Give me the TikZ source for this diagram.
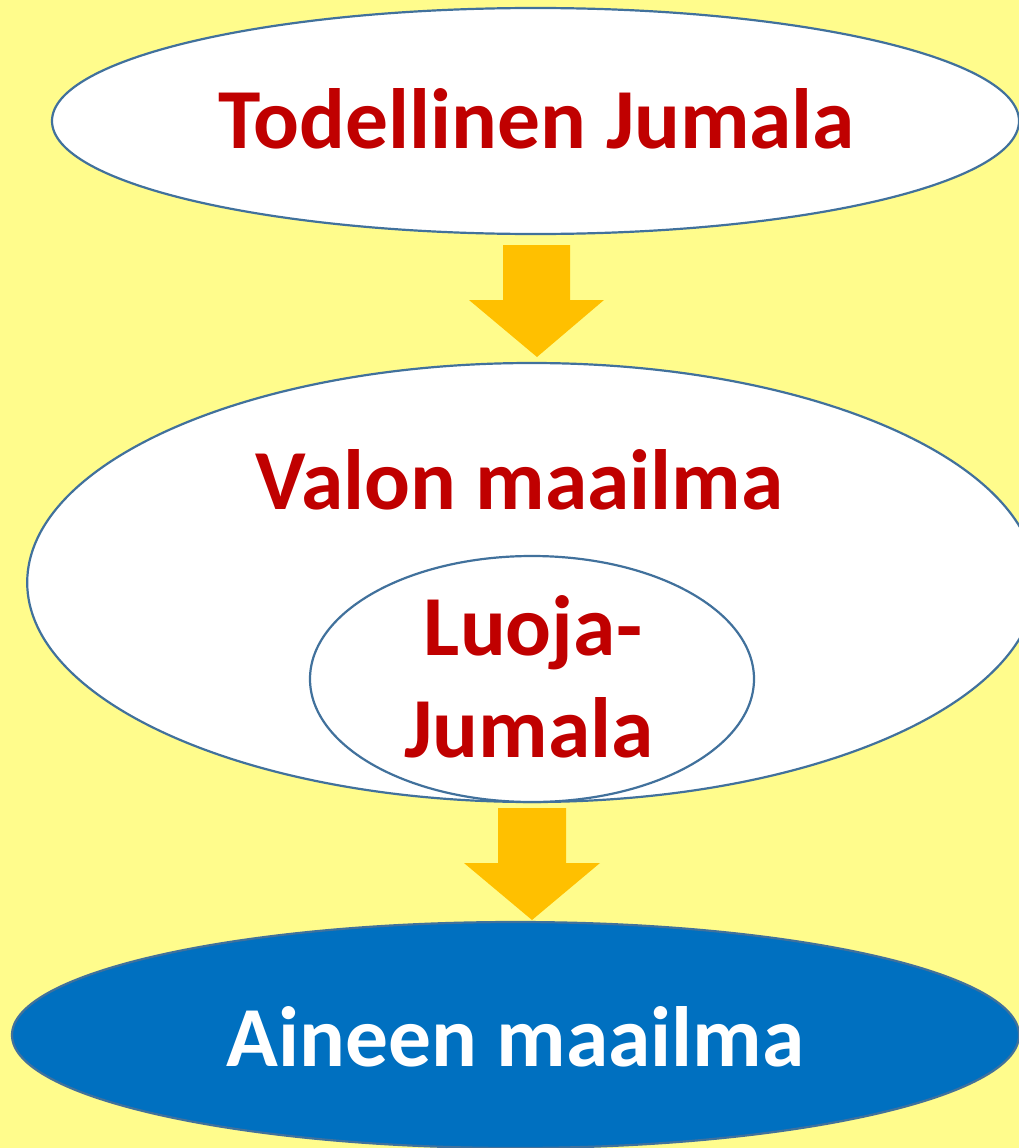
\documentclass[tikz,border=0pt]{standalone}
\usepackage{fontspec}
\setmainfont{Carlito}
\usetikzlibrary{shapes.geometric}
\definecolor{bgyellow}{RGB}{255,252,140}
\definecolor{edgeblue}{RGB}{65,113,156}
\definecolor{arroworange}{RGB}{255,192,0}
\definecolor{fillblue}{RGB}{0,112,192}
\definecolor{textred}{RGB}{192,0,0}
\tikzset{
  oval/.style={ellipse, draw=edgeblue, line width=2.2pt, inner sep=0pt, outer sep=0pt},
  label text/.style={anchor=base, inner sep=0pt, font=\fontsize{85.5}{102}\selectfont\bfseries},
  blockarrow/.style={fill=arroworange, draw=none}
}
\begin{document}
\begin{tikzpicture}[x=1pt,y=-1pt]
\useasboundingbox (0,0) rectangle (1019,1148);
\fill[bgyellow] (0,0) rectangle (1019,1148);
% ellipses
\node[oval, fill=white, minimum width=967pt, minimum height=226pt] (e1) at (535.5,121) {};
\node[oval, fill=white, minimum width=1009pt, minimum height=439pt] (e2) at (531.7,582.5) {};
\node[oval, fill=white, minimum width=444pt, minimum height=246pt] (e3) at (532,679) {};
\node[oval, fill=fillblue, minimum width=1007pt, minimum height=226pt] (e4) at (515.5,1035) {};
% block arrows
\fill[blockarrow] (503,245) -- (570,245) -- (570,300) -- (604,300) -- (537,357) -- (469,300) -- (503,300) -- cycle;
\fill[blockarrow] (498,808) -- (566,808) -- (566,863) -- (600,863) -- (532,920) -- (464,863) -- (498,863) -- cycle;
% texts
\node[label text, text=textred] (t1) at (537,148) {Todellinen Jumala};
\node[label text, text=textred] (t2) at (519.5,509) {Valon maailma};
\node[label text, text=textred] (t3) at (533,655) {Luoja-};
\node[label text, text=textred] (t4) at (529,757) {Jumala};
\node[label text, text=white] (t5) at (515.5,1066) {Aineen maailma};
\end{tikzpicture}
\end{document}
